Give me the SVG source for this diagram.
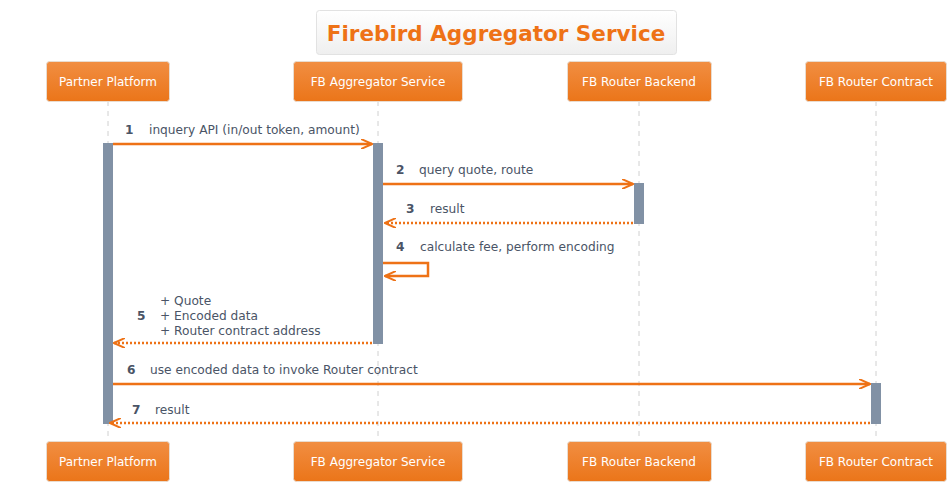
<svg xmlns="http://www.w3.org/2000/svg" width="952" height="486" viewBox="0 0 952 486">
<defs>
<linearGradient id="pg" x1="0" y1="0" x2="0" y2="1"><stop offset="0" stop-color="#F18E42"/><stop offset="1" stop-color="#EB7519"/></linearGradient>
<linearGradient id="tg" x1="0" y1="0" x2="0" y2="1"><stop offset="0" stop-color="#FFFFFF"/><stop offset="1" stop-color="#EFEFEF"/></linearGradient>
<marker id="oa" viewBox="0 0 12 10" refX="11" refY="5" markerWidth="12" markerHeight="10" markerUnits="userSpaceOnUse" orient="auto"><path d="M0,0 L11,5 L0,10" fill="none" stroke="#EE7216" stroke-width="2"/></marker>
</defs>
<style>
.pbox{fill:url(#pg);stroke:#E9DCCF;stroke-width:1}
.plabel{font-family:"DejaVu Sans",sans-serif;font-size:12px;fill:#FFFFFF;text-anchor:middle}
.life{stroke:#D0D0D0;stroke-width:1;stroke-dasharray:5,5}
.act{fill:#8191A5;stroke:#8191A5;stroke-width:1}
.msg{stroke:#EE7216;stroke-width:2.5;fill:none}
.ret{stroke:#EE7216;stroke-width:2.5;fill:none;stroke-dasharray:2,2}
.num{font-family:"DejaVu Sans",sans-serif;font-size:12.2px;font-weight:bold;fill:#4A5466}
.txt{font-family:"DejaVu Sans",sans-serif;font-size:12.2px;fill:#4A5466}
</style>
<rect width="952" height="486" fill="#FFFFFF"/>
<g id="title">
<rect x="316.5" y="10.5" width="360" height="44" rx="3" fill="url(#tg)" stroke="#E2E2E2"/>
<text x="496" y="41" font-family="DejaVu Sans,sans-serif" font-size="21.5" font-weight="bold" fill="#EE7216" text-anchor="middle">Firebird Aggregator Service</text>
</g>
<g id="lifelines">
<line class="life" x1="108" y1="101" x2="108" y2="441"/>
<line class="life" x1="378" y1="101" x2="378" y2="441"/>
<line class="life" x1="639" y1="101" x2="639" y2="441"/>
<line class="life" x1="876" y1="101" x2="876" y2="441"/>
</g>
<g id="p1">
<rect class="pbox" x="46.5" y="61.5" width="123" height="40" rx="3"/>
<text class="plabel" x="108" y="86">Partner Platform</text>
<rect class="pbox" x="46.5" y="441.5" width="123" height="40" rx="3"/>
<text class="plabel" x="108" y="466">Partner Platform</text>
</g>
<g id="p2">
<rect class="pbox" x="293.5" y="61.5" width="169" height="40" rx="3"/>
<text class="plabel" x="378" y="86">FB Aggregator Service</text>
<rect class="pbox" x="293.5" y="441.5" width="169" height="40" rx="3"/>
<text class="plabel" x="378" y="466">FB Aggregator Service</text>
</g>
<g id="p3">
<rect class="pbox" x="567.5" y="61.5" width="144" height="40" rx="3"/>
<text class="plabel" x="639" y="86">FB Router Backend</text>
<rect class="pbox" x="567.5" y="441.5" width="144" height="40" rx="3"/>
<text class="plabel" x="639" y="466">FB Router Backend</text>
</g>
<g id="p4">
<rect class="pbox" x="805.5" y="61.5" width="141" height="40" rx="3"/>
<text class="plabel" x="876" y="86">FB Router Contract</text>
<rect class="pbox" x="805.5" y="441.5" width="141" height="40" rx="3"/>
<text class="plabel" x="876" y="466">FB Router Contract</text>
</g>
<g id="activations">
<rect class="act" x="103.5" y="143.5" width="9" height="280"/>
<rect class="act" x="373.5" y="143.5" width="9" height="200"/>
<rect class="act" x="634.5" y="183.5" width="9" height="40"/>
<rect class="act" x="871.5" y="383.5" width="9" height="40"/>
</g>
<g id="connectors">
<line class="msg" x1="113" y1="144" x2="372" y2="144" marker-end="url(#oa)"/>
<line class="msg" x1="383" y1="184" x2="633" y2="184" marker-end="url(#oa)"/>
<line class="ret" x1="633" y1="223" x2="385" y2="223" marker-end="url(#oa)"/>
<polyline class="msg" points="383,263 428,263 428,276 385,276" marker-end="url(#oa)"/>
<line class="ret" x1="372" y1="343" x2="114" y2="343" marker-end="url(#oa)"/>
<line class="msg" x1="113" y1="384" x2="870" y2="384" marker-end="url(#oa)"/>
<line class="ret" x1="870" y1="423" x2="110" y2="423" marker-end="url(#oa)"/>
</g>
<g id="labels">
<text class="num" x="125" y="134">1</text><text class="txt" x="149" y="134">inquery API (in/out token, amount)</text>
<text class="num" x="396" y="174">2</text><text class="txt" x="419" y="174">query quote, route</text>
<text class="num" x="406" y="213">3</text><text class="txt" x="430" y="213">result</text>
<text class="num" x="396" y="251">4</text><text class="txt" x="420" y="251">calculate fee, perform encoding</text>
<text class="num" x="137" y="320">5</text>
<text class="txt" x="160" y="305">+ Quote</text>
<text class="txt" x="160" y="320">+ Encoded data</text>
<text class="txt" x="160" y="335">+ Router contract address</text>
<text class="num" x="127" y="374">6</text><text class="txt" x="150" y="374">use encoded data to invoke Router contract</text>
<text class="num" x="132" y="414">7</text><text class="txt" x="155" y="414">result</text>
</g>
</svg>
